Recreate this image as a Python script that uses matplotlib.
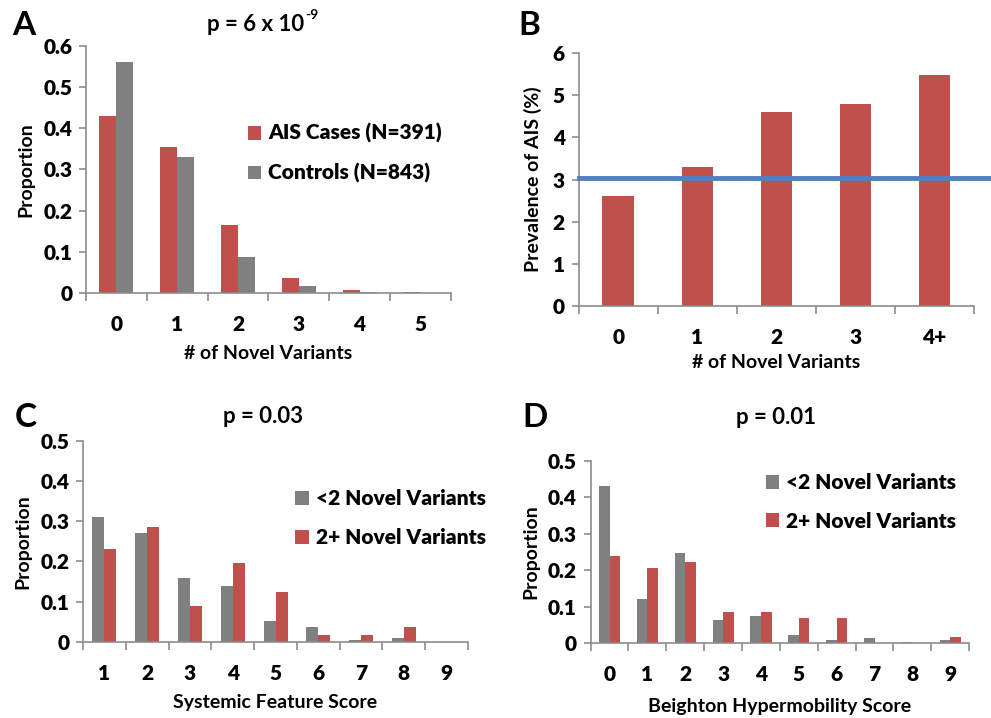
import numpy as np
import matplotlib.pyplot as plt
from matplotlib.ticker import FixedLocator, NullFormatter

plt.rcParams['font.family'] = ['Lato', 'DejaVu Sans']
plt.rcParams['font.weight'] = 'bold'
plt.rcParams['axes.labelweight'] = 'bold'

RED = '#C0504D'
GRAY = '#808080'
AXC = '#8C8C8C'

# ---------------------------
# Data
# ---------------------------
a_labels = ['0', '1', '2', '3', '4', '5']
a_cases = [0.43, 0.355, 0.165, 0.037, 0.007, 0.002]
a_controls = [0.56, 0.33, 0.088, 0.017, 0.003, 0.0]

b_labels = ['0', '1', '2', '3', '4+']
b_prev = [2.6, 3.3, 4.6, 4.8, 5.47]
b_baseline = 3.03

c_labels = ['1', '2', '3', '4', '5', '6', '7', '8', '9']
c_low = [0.31, 0.27, 0.16, 0.14, 0.053, 0.038, 0.004, 0.009, 0.0]
c_high = [0.232, 0.285, 0.09, 0.197, 0.125, 0.018, 0.018, 0.036, 0.0]

d_labels = ['0', '1', '2', '3', '4', '5', '6', '7', '8', '9']
d_low = [0.43, 0.12, 0.247, 0.063, 0.073, 0.023, 0.009, 0.014, 0.003, 0.009]
d_high = [0.24, 0.205, 0.223, 0.086, 0.086, 0.069, 0.069, 0.0, 0.0, 0.017]

TICK_FS = 15
LAB_FS = 14
LEG_FS = 15
TITLE_FS = 16
HEAVY = 800


def style_axes(ax, labels, ymax, ystep, fmt):
    n = len(labels)
    ax.set_xlim(-0.5, n - 0.5)
    ax.set_ylim(0, ymax)
    ax.spines['top'].set_visible(False)
    ax.spines['right'].set_visible(False)
    for s in ('left', 'bottom'):
        ax.spines[s].set_color(AXC)
        ax.spines[s].set_linewidth(1.2)
    # boundary ticks on x, labels at centers
    ax.xaxis.set_major_locator(FixedLocator(np.arange(n + 1) - 0.5))
    ax.xaxis.set_major_formatter(NullFormatter())
    ax.xaxis.set_minor_locator(FixedLocator(np.arange(n)))
    ax.set_xticklabels(labels, minor=True)
    ax.tick_params(axis='x', which='major', length=6, color=AXC, width=1.2)
    ax.tick_params(axis='x', which='minor', length=0, pad=16, labelsize=TICK_FS)
    yt = np.arange(0, ymax + 1e-9, ystep)
    ax.set_yticks(yt)
    ax.set_yticklabels([fmt(v) for v in yt])
    ax.tick_params(axis='y', length=5, color=AXC, width=1.2, labelsize=TICK_FS, pad=5)


def fmt_prop(v):
    return '0' if v == 0 else f'{v:.1f}'


def add_legend(ax, anchor):
    ax.legend(loc='upper left', bbox_to_anchor=anchor, frameon=False,
              fontsize=LEG_FS, handlelength=0.65, handleheight=0.65,
              handletextpad=0.35, labelspacing=0.95, borderaxespad=0)


fig = plt.figure(figsize=(9.91, 7.18), dpi=100)

# ---------------------------
# A
# ---------------------------
axA = fig.add_axes([0.0868, 0.592, 0.368, 0.344])
x = np.arange(len(a_labels))
w = 0.28
axA.bar(x - w / 2, a_cases, w, color=RED, label='AIS Cases (N=391)')
axA.bar(x + w / 2, a_controls, w, color=GRAY, label='Controls (N=843)')
style_axes(axA, a_labels, 0.6, 0.1, fmt_prop)
axA.set_ylabel('Proportion', fontsize=LAB_FS, labelpad=6)
axA.set_xlabel('# of Novel Variants', fontsize=LAB_FS, labelpad=8)
add_legend(axA, (0.42, 0.72))
tA = fig.text(0.258, 0.966, 'p = 6 x 10', fontsize=TITLE_FS,
              ha='center', va='center', fontweight='bold')
axA.annotate('-9', xy=(1, 0.95), xycoords=tA, xytext=(1, 0),
             textcoords='offset points', fontsize=10, fontweight='bold',
             ha='left', va='center', annotation_clip=False)
fig.text(0.012, 0.964, 'A', fontsize=24, fontweight='bold', va='center')

# ---------------------------
# B
# ---------------------------
axB = fig.add_axes([0.584, 0.574, 0.399, 0.352])
x = np.arange(len(b_labels))
axB.bar(x, b_prev, 0.4, color=RED)
style_axes(axB, b_labels, 6, 1, lambda v: f'{v:.0f}')
axB.axhline(b_baseline, xmin=0, xmax=1.05, color='#4F81BD', lw=3.5,
            clip_on=False, zorder=3)
axB.set_ylabel('Prevalence of AIS (%)', fontsize=LAB_FS, labelpad=8)
axB.set_xlabel('# of Novel Variants', fontsize=LAB_FS, labelpad=5)
fig.text(0.523, 0.964, 'B', fontsize=24, fontweight='bold', va='center')

# ---------------------------
# C
# ---------------------------
axC = fig.add_axes([0.0838, 0.106, 0.3885, 0.280])
x = np.arange(len(c_labels))
w = 0.28
axC.bar(x - w / 2, c_low, w, color=GRAY, label='<2 Novel Variants')
axC.bar(x + w / 2, c_high, w, color=RED, label='2+ Novel Variants')
style_axes(axC, c_labels, 0.5, 0.1, fmt_prop)
axC.set_ylabel('Proportion', fontsize=LAB_FS, labelpad=6)
axC.set_xlabel('Systemic Feature Score', fontsize=LAB_FS, labelpad=8)
add_legend(axC, (0.53, 0.80))
fig.text(0.265, 0.42, 'p = 0.03', fontsize=TITLE_FS, ha='center', va='center',
         fontweight='bold')
fig.text(0.015, 0.418, 'C', fontsize=24, fontweight='bold', va='center')

# ---------------------------
# D
# ---------------------------
axD = fig.add_axes([0.596, 0.1045, 0.382, 0.2535])
x = np.arange(len(d_labels))
w = 0.28
axD.bar(x - w / 2, d_low, w, color=GRAY, label='<2 Novel Variants')
axD.bar(x + w / 2, d_high, w, color=RED, label='2+ Novel Variants')
style_axes(axD, d_labels, 0.5, 0.1, fmt_prop)
axD.set_ylabel('Proportion', fontsize=LAB_FS, labelpad=6)
axD.set_xlabel('Beighton Hypermobility Score', fontsize=LAB_FS, labelpad=10)
add_legend(axD, (0.44, 0.98))
fig.text(0.783, 0.418, 'p = 0.01', fontsize=TITLE_FS, ha='center', va='center',
         fontweight='bold')
fig.text(0.527, 0.418, 'D', fontsize=24, fontweight='bold', va='center')

# heavier weight for tick labels and legend entries
fig.canvas.draw()
for ax in (axA, axB, axC, axD):
    for lab in ax.get_xticklabels(minor=True) + ax.get_yticklabels():
        lab.set_fontweight(HEAVY)
    leg = ax.get_legend()
    if leg is not None:
        for t in leg.get_texts():
            t.set_fontweight(HEAVY)

fig.savefig('out.png', dpi=100)
